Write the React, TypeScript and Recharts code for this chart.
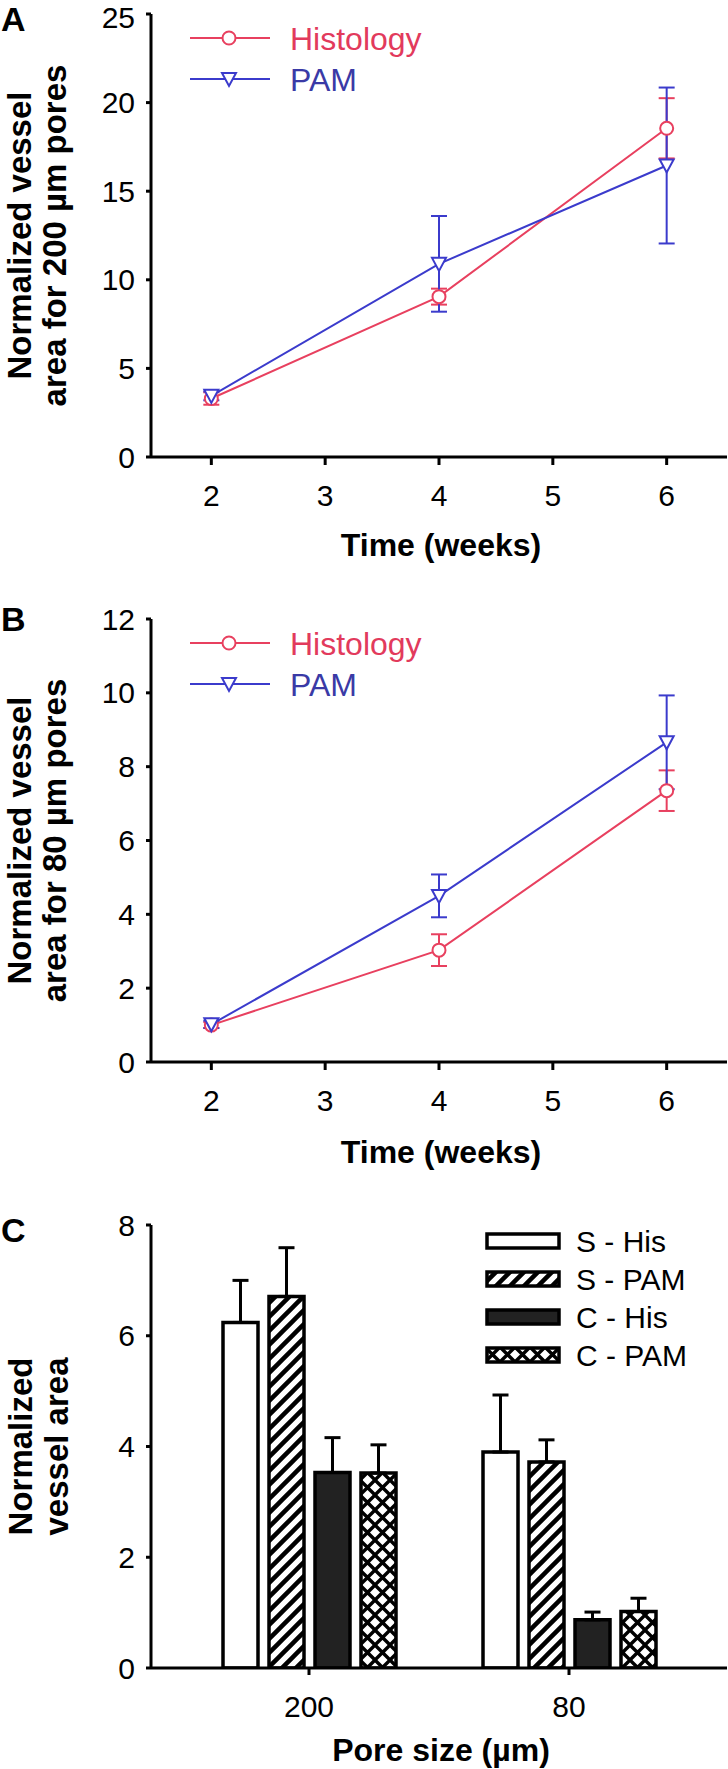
import React from 'react';
import { LineChart, Line, XAxis, YAxis, ErrorBar, Legend, BarChart, Bar } from 'recharts';

const FONT = '"Liberation Sans", Arial, Helvetica, sans-serif';
const HIS_COLOR = '#e8405f';
const PAM_COLOR = '#3b3bcc';
const HIS_TEXT = '#e23a5c';
const PAM_TEXT = '#3a3aa6';

// ---------- Panel A / B : time series ----------
const weeks = [2, 4, 6];
const weekTicks = [2, 3, 4, 5, 6];

const histology200 = [3.3, 9.05, 18.55];
const histology200Err = [0.35, 0.45, 1.7];
const pam200 = [3.45, 10.9, 16.45];
const pam200Err = [0.25, 2.7, 4.4];
const yTicks200 = [0, 5, 10, 15, 20, 25];

const histology80 = [1.0, 3.03, 7.35];
const histology80Err = [0.08, 0.43, 0.55];
const pam80 = [1.02, 4.5, 8.66];
const pam80Err = [0.1, 0.58, 1.27];
const yTicks80 = [0, 2, 4, 6, 8, 10, 12];

const seriesNames = ['Histology', 'PAM'];

// ---------- Panel C : bars ----------
const poreSizes = ['200', '80'];
const sHis = [6.24, 3.9];
const sHisErr = [0.76, 1.03];
const sPam = [6.71, 3.72];
const sPamErr = [0.88, 0.4];
const cHis = [3.53, 0.87];
const cHisErr = [0.63, 0.14];
const cPam = [3.52, 1.02];
const cPamErr = [0.51, 0.24];
const yTicksC = [0, 2, 4, 6, 8];
const barNames = ['S - His', 'S - PAM', 'C - His', 'C - PAM'];

const data200 = weeks.map((w, i) => ({
  week: w,
  his: histology200[i],
  hisErr: histology200Err[i],
  pam: pam200[i],
  pamErr: pam200Err[i],
}));
const data80 = weeks.map((w, i) => ({
  week: w,
  his: histology80[i],
  hisErr: histology80Err[i],
  pam: pam80[i],
  pamErr: pam80Err[i],
}));
const barData = poreSizes.map((p, i) => ({
  pore: p,
  sHis: sHis[i],
  sHisErr: [0, sHisErr[i]],
  sPam: sPam[i],
  sPamErr: [0, sPamErr[i]],
  cHis: cHis[i],
  cHisErr: [0, cHisErr[i]],
  cPam: cPam[i],
  cPamErr: [0, cPamErr[i]],
}));

const W = 728;
const Y_AXIS_W = 151;
const AXIS = { stroke: '#000', strokeWidth: 3 };
const TICK_STYLE = { fill: '#000', fontSize: 30, fontFamily: FONT };

const XTitle = (props: any) => (
  <text
    x={props.tx}
    y={props.ty}
    textAnchor="middle"
    fontSize={32}
    fontWeight="bold"
    fontFamily={FONT}
    fill="#000"
  >
    {props.text}
  </text>
);

const YTitle = (props: any) => {
  const { lines, xs, cy, letter, letterY } = props;
  return (
    <g>
      <text x={1} y={letterY} fontSize={34} fontWeight="bold" fontFamily={FONT} fill="#000">
        {letter}
      </text>
      {lines.map((l: string, i: number) => (
        <text
          key={i}
          x={xs[i]}
          y={cy}
          transform={`rotate(-90 ${xs[i]} ${cy})`}
          textAnchor="middle"
          fontSize={33}
          fontWeight="bold"
          fontFamily={FONT}
          fill="#000"
        >
          {l}
        </text>
      ))}
    </g>
  );
};

const CircleDot = (props: any) => {
  const { cx, cy } = props;
  if (cx == null || cy == null) return null;
  return <circle cx={cx} cy={cy} r={6.5} fill="#fff" stroke={HIS_COLOR} strokeWidth={2} />;
};

const TriDot = (props: any) => {
  const { cx, cy } = props;
  if (cx == null || cy == null) return null;
  return (
    <polygon
      points={`${cx - 7},${cy - 6} ${cx + 7},${cy - 6} ${cx},${cy + 7}`}
      fill="#fff"
      stroke={PAM_COLOR}
      strokeWidth={2}
    />
  );
};

const LineLegend = () => (
  <svg width={300} height={95} style={{ display: 'block', overflow: 'visible' }}>
    <line x1={10} x2={90} y1={24} y2={24} stroke={HIS_COLOR} strokeWidth={2} />
    <circle cx={49} cy={24} r={6.5} fill="#fff" stroke={HIS_COLOR} strokeWidth={2} />
    <text x={110} y={35.5} fontSize={32} fontFamily={FONT} fill={HIS_TEXT}>
      {seriesNames[0]}
    </text>
    <line x1={10} x2={90} y1={65} y2={65} stroke={PAM_COLOR} strokeWidth={2} />
    <polygon points={`42,59 56,59 49,72`} fill="#fff" stroke={PAM_COLOR} strokeWidth={2} />
    <text x={110} y={76.5} fontSize={32} fontFamily={FONT} fill={PAM_TEXT}>
      {seriesNames[1]}
    </text>
  </svg>
);

function LinePanel(props: any) {
  const { data, yMax, yTicks, labelLines, letter, letterY, height, plotTop, plotBottom, xTitleY } = props;
  return (
    <div style={{ width: W, height }}>
      <LineChart width={W} height={height} data={data} margin={{ top: plotTop, right: 1, bottom: 0, left: 0 }}>
        <XAxis
          dataKey="week"
          type="number"
          domain={[1.47, 6.53]}
          ticks={weekTicks}
          allowDataOverflow
          height={height - plotBottom}
          axisLine={AXIS}
          tickLine={AXIS}
          tickSize={8}
          tickMargin={20}
          tick={TICK_STYLE}
          label={<XTitle text="Time (weeks)" tx={441} ty={xTitleY} />}
        />
        <YAxis
          type="number"
          domain={[0, yMax]}
          ticks={yTicks}
          allowDataOverflow
          width={Y_AXIS_W}
          axisLine={AXIS}
          tickLine={AXIS}
          tickSize={5}
          tickMargin={11}
          tick={TICK_STYLE}
          label={
            <YTitle
              lines={labelLines}
              xs={[31, 66]}
              cy={(plotTop + plotBottom) / 2}
              letter={letter}
              letterY={letterY}
            />
          }
        />
        <Line
          dataKey="his"
          name={seriesNames[0]}
          stroke={HIS_COLOR}
          strokeWidth={2}
          dot={<CircleDot />}
          isAnimationActive={false}
        >
          <ErrorBar dataKey="hisErr" direction="y" width={8} stroke={HIS_COLOR} strokeWidth={2} />
        </Line>
        <Line
          dataKey="pam"
          name={seriesNames[1]}
          stroke={PAM_COLOR}
          strokeWidth={2}
          dot={<TriDot />}
          isAnimationActive={false}
        >
          <ErrorBar dataKey="pamErr" direction="y" width={8} stroke={PAM_COLOR} strokeWidth={2} />
        </Line>
        <Legend
          layout="vertical"
          align="center"
          verticalAlign="middle"
          wrapperStyle={{ left: 180, top: plotTop, width: 300, height: 95 }}
          content={() => <LineLegend />}
        />
      </LineChart>
    </div>
  );
}

const PatternDefs = ({ prefix }: { prefix: string }) => (
  <defs>
    <pattern id={`${prefix}-hatch`} patternUnits="userSpaceOnUse" width={14} height={14}>
      <rect width={14} height={14} fill="#fff" />
      <path d="M-3.5,3.5 L3.5,-3.5 M0,14 L14,0 M10.5,17.5 L17.5,10.5" stroke="#000" strokeWidth={4.5} />
    </pattern>
    <pattern id={`${prefix}-cross`} patternUnits="userSpaceOnUse" width={15} height={15}>
      <rect width={15} height={15} fill="#fff" />
      <path d="M0,0 L15,15 M15,0 L0,15" stroke="#000" strokeWidth={3.4} />
    </pattern>
  </defs>
);

const BarLegend = () => {
  const fills = ['#fff', 'url(#lg-hatch)', '#222', 'url(#lg-cross)'];
  const rows = [14, 52, 90, 128];
  return (
    <svg width={230} height={150} style={{ display: 'block', overflow: 'visible' }}>
      <PatternDefs prefix="lg" />
      {barNames.map((n, i) => (
        <g key={n}>
          <rect x={2} y={rows[i] - 7} width={72} height={14} fill={fills[i]} stroke="#000" strokeWidth={3.5} />
          <text x={91} y={rows[i] + 11} fontSize={30} fontFamily={FONT} fill="#000">
            {n}
          </text>
        </g>
      ))}
    </svg>
  );
};

function BarPanel() {
  const height = 589;
  const plotTop = 45;
  const plotBottom = 488;
  const errProps = { direction: 'y' as const, width: 8, stroke: '#000', strokeWidth: 3 };
  return (
    <div style={{ width: W, height }}>
      <BarChart
        width={W}
        height={height}
        data={barData}
        margin={{ top: plotTop, right: 1, bottom: 0, left: 0 }}
        barSize={35}
        barGap={11}
      >
        <PatternDefs prefix="bc" />
        <XAxis
          dataKey="pore"
          padding={{ left: 28, right: 28 }}
          height={height - plotBottom}
          axisLine={AXIS}
          tickLine={AXIS}
          tickSize={7}
          tickMargin={21}
          tick={TICK_STYLE}
          label={<XTitle text="Pore size (µm)" tx={441} ty={581} />}
        />
        <YAxis
          type="number"
          domain={[0, 8]}
          ticks={yTicksC}
          allowDataOverflow
          width={Y_AXIS_W}
          axisLine={AXIS}
          tickLine={AXIS}
          tickSize={5}
          tickMargin={11}
          tick={TICK_STYLE}
          label={
            <YTitle
              lines={['Normalized', 'vessel area']}
              xs={[32, 68]}
              cy={(plotTop + plotBottom) / 2}
              letter="C"
              letterY={62}
            />
          }
        />
        <Bar dataKey="sHis" name={barNames[0]} fill="#fff" stroke="#000" strokeWidth={3.5} isAnimationActive={false}>
          <ErrorBar dataKey="sHisErr" {...errProps} />
        </Bar>
        <Bar dataKey="sPam" name={barNames[1]} fill="url(#bc-hatch)" stroke="#000" strokeWidth={3.5} isAnimationActive={false}>
          <ErrorBar dataKey="sPamErr" {...errProps} />
        </Bar>
        <Bar dataKey="cHis" name={barNames[2]} fill="#222" stroke="#000" strokeWidth={3.5} isAnimationActive={false}>
          <ErrorBar dataKey="cHisErr" {...errProps} />
        </Bar>
        <Bar dataKey="cPam" name={barNames[3]} fill="url(#bc-cross)" stroke="#000" strokeWidth={3.5} isAnimationActive={false}>
          <ErrorBar dataKey="cPamErr" {...errProps} />
        </Bar>
        <Legend
          layout="vertical"
          align="center"
          verticalAlign="middle"
          wrapperStyle={{ left: 485, top: 47, width: 230, height: 150 }}
          content={() => <BarLegend />}
        />
      </BarChart>
    </div>
  );
}

export default function App() {
  return (
    <div
      style={{
        position: 'absolute',
        left: 0,
        top: 0,
        width: W,
        height: 1769,
        background: '#fff',
        overflow: 'hidden',
      }}
    >
      <LinePanel
        data={data200}
        yMax={25}
        yTicks={yTicks200}
        labelLines={['Normalized vessel', 'area for 200 µm pores']}
        letter="A"
        letterY={31}
        height={590}
        plotTop={14}
        plotBottom={457}
        xTitleY={556}
      />
      <LinePanel
        data={data80}
        yMax={12}
        yTicks={yTicks80}
        labelLines={['Normalized vessel', 'area for 80 µm pores']}
        letter="B"
        letterY={41}
        height={590}
        plotTop={29}
        plotBottom={472}
        xTitleY={573}
      />
      <BarPanel />
    </div>
  );
}
